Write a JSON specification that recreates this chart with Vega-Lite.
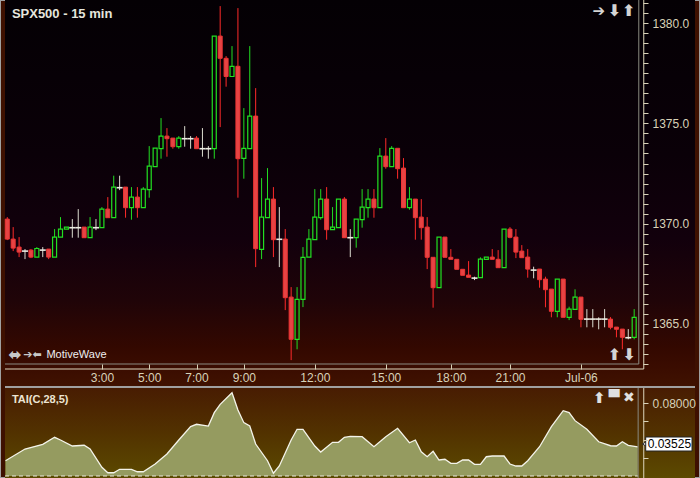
{
"$schema": "https://vega.github.io/schema/vega-lite/v6.json",
"width": 700, "height": 478, "padding": 0,
"autosize": {"type": "none"},
"background": "#3e1000",
"config": {"view": {"stroke": "#a0a0a0", "strokeWidth": 2}, "axis": {"grid": false}},
"data": {"values": [{}]},
"datasets": {
"candles": [
{"i":0,"o":1370.22,"h":1370.32,"l":1369.17,"c":1369.22,"d":"d"},
{"i":1,"o":1369.22,"h":1369.82,"l":1368.62,"c":1368.77,"d":"d"},
{"i":2,"o":1368.82,"h":1369.32,"l":1368.32,"c":1368.57,"d":"d"},
{"i":3,"o":1368.62,"h":1368.72,"l":1368.22,"c":1368.62,"d":"n"},
{"i":4,"o":1368.67,"h":1368.72,"l":1368.27,"c":1368.32,"d":"d"},
{"i":5,"o":1368.32,"h":1368.82,"l":1368.32,"c":1368.75,"d":"u"},
{"i":6,"o":1368.67,"h":1368.82,"l":1368.32,"c":1368.67,"d":"n"},
{"i":7,"o":1368.72,"h":1368.72,"l":1368.22,"c":1368.32,"d":"d"},
{"i":8,"o":1368.32,"h":1369.72,"l":1368.32,"c":1369.32,"d":"u"},
{"i":9,"o":1369.32,"h":1370.32,"l":1369.32,"c":1369.72,"d":"u"},
{"i":10,"o":1369.72,"h":1369.82,"l":1369.72,"c":1369.82,"d":"u"},
{"i":11,"o":1369.79,"h":1370.22,"l":1369.29,"c":1369.79,"d":"n"},
{"i":12,"o":1369.79,"h":1370.72,"l":1369.29,"c":1369.79,"d":"n"},
{"i":13,"o":1369.82,"h":1369.82,"l":1369.29,"c":1369.29,"d":"d"},
{"i":14,"o":1369.29,"h":1370.32,"l":1369.29,"c":1369.82,"d":"u"},
{"i":15,"o":1369.79,"h":1370.22,"l":1369.67,"c":1369.79,"d":"n"},
{"i":16,"o":1369.79,"h":1370.82,"l":1369.79,"c":1370.72,"d":"u"},
{"i":17,"o":1370.72,"h":1371.32,"l":1370.29,"c":1370.29,"d":"d"},
{"i":18,"o":1370.29,"h":1372.39,"l":1370.29,"c":1371.82,"d":"u"},
{"i":19,"o":1371.79,"h":1372.39,"l":1371.67,"c":1371.79,"d":"n"},
{"i":20,"o":1371.82,"h":1371.82,"l":1370.29,"c":1370.79,"d":"d"},
{"i":21,"o":1370.79,"h":1371.82,"l":1370.19,"c":1371.32,"d":"u"},
{"i":22,"o":1371.32,"h":1371.82,"l":1370.29,"c":1370.79,"d":"d"},
{"i":23,"o":1370.79,"h":1371.82,"l":1370.79,"c":1371.72,"d":"u"},
{"i":24,"o":1371.69,"h":1373.87,"l":1371.29,"c":1372.87,"d":"u"},
{"i":25,"o":1372.84,"h":1373.77,"l":1372.84,"c":1373.77,"d":"u"},
{"i":26,"o":1373.74,"h":1375.27,"l":1373.24,"c":1374.37,"d":"u"},
{"i":27,"o":1374.37,"h":1374.77,"l":1373.34,"c":1374.24,"d":"d"},
{"i":28,"o":1374.27,"h":1374.27,"l":1373.74,"c":1373.84,"d":"d"},
{"i":29,"o":1373.84,"h":1374.37,"l":1373.74,"c":1374.27,"d":"u"},
{"i":30,"o":1374.24,"h":1374.87,"l":1373.84,"c":1374.24,"d":"n"},
{"i":31,"o":1374.24,"h":1374.37,"l":1373.74,"c":1374.24,"d":"n"},
{"i":32,"o":1374.27,"h":1374.37,"l":1373.74,"c":1373.74,"d":"d"},
{"i":33,"o":1373.74,"h":1374.77,"l":1373.34,"c":1373.74,"d":"n"},
{"i":34,"o":1373.74,"h":1373.87,"l":1373.24,"c":1373.74,"d":"n"},
{"i":35,"o":1373.74,"h":1379.37,"l":1373.24,"c":1379.37,"d":"u"},
{"i":36,"o":1379.37,"h":1380.87,"l":1374.82,"c":1378.26,"d":"d"},
{"i":37,"o":1378.26,"h":1378.37,"l":1376.84,"c":1377.35,"d":"d"},
{"i":38,"o":1377.35,"h":1378.87,"l":1377.35,"c":1377.86,"d":"u"},
{"i":39,"o":1377.86,"h":1380.77,"l":1371.29,"c":1373.24,"d":"d"},
{"i":40,"o":1373.26,"h":1375.77,"l":1372.24,"c":1373.76,"d":"u"},
{"i":41,"o":1373.74,"h":1378.87,"l":1373.74,"c":1375.37,"d":"u"},
{"i":42,"o":1375.37,"h":1376.77,"l":1367.82,"c":1368.74,"d":"d"},
{"i":43,"o":1368.71,"h":1372.27,"l":1368.22,"c":1370.32,"d":"u"},
{"i":44,"o":1370.29,"h":1372.77,"l":1370.29,"c":1371.22,"d":"u"},
{"i":45,"o":1371.22,"h":1371.82,"l":1368.32,"c":1369.19,"d":"d"},
{"i":46,"o":1369.21,"h":1370.82,"l":1367.82,"c":1369.21,"d":"n"},
{"i":47,"o":1369.22,"h":1369.72,"l":1365.67,"c":1366.29,"d":"d"},
{"i":48,"o":1366.32,"h":1366.82,"l":1363.17,"c":1364.21,"d":"d"},
{"i":49,"o":1364.21,"h":1366.82,"l":1363.71,"c":1366.21,"d":"u"},
{"i":50,"o":1366.21,"h":1368.82,"l":1365.82,"c":1368.31,"d":"u"},
{"i":51,"o":1368.32,"h":1369.72,"l":1368.32,"c":1369.22,"d":"u"},
{"i":52,"o":1369.19,"h":1371.72,"l":1369.19,"c":1370.32,"d":"u"},
{"i":53,"o":1370.29,"h":1371.72,"l":1370.19,"c":1371.22,"d":"u"},
{"i":54,"o":1371.22,"h":1371.82,"l":1369.19,"c":1369.69,"d":"d"},
{"i":55,"o":1369.69,"h":1370.82,"l":1369.69,"c":1369.82,"d":"u"},
{"i":56,"o":1369.79,"h":1371.22,"l":1369.79,"c":1371.22,"d":"u"},
{"i":57,"o":1371.22,"h":1371.32,"l":1369.29,"c":1369.29,"d":"d"},
{"i":58,"o":1369.29,"h":1369.72,"l":1368.32,"c":1369.29,"d":"n"},
{"i":59,"o":1369.29,"h":1370.22,"l":1368.79,"c":1370.22,"d":"u"},
{"i":60,"o":1370.19,"h":1371.72,"l":1369.79,"c":1370.82,"d":"u"},
{"i":61,"o":1370.79,"h":1371.72,"l":1370.29,"c":1371.22,"d":"u"},
{"i":62,"o":1371.22,"h":1371.72,"l":1370.29,"c":1370.79,"d":"d"},
{"i":63,"o":1370.79,"h":1373.77,"l":1370.79,"c":1373.37,"d":"u"},
{"i":64,"o":1373.37,"h":1374.27,"l":1372.74,"c":1372.84,"d":"d"},
{"i":65,"o":1372.84,"h":1373.87,"l":1372.84,"c":1373.76,"d":"u"},
{"i":66,"o":1373.76,"h":1373.76,"l":1372.24,"c":1372.74,"d":"d"},
{"i":67,"o":1372.77,"h":1373.27,"l":1370.79,"c":1370.79,"d":"d"},
{"i":68,"o":1370.79,"h":1371.82,"l":1370.69,"c":1371.22,"d":"u"},
{"i":69,"o":1371.22,"h":1371.22,"l":1369.19,"c":1370.29,"d":"d"},
{"i":70,"o":1370.32,"h":1371.22,"l":1369.19,"c":1369.79,"d":"d"},
{"i":71,"o":1369.82,"h":1370.32,"l":1367.72,"c":1368.31,"d":"d"},
{"i":72,"o":1368.31,"h":1368.32,"l":1365.79,"c":1366.79,"d":"d"},
{"i":73,"o":1366.79,"h":1369.32,"l":1366.79,"c":1369.32,"d":"u"},
{"i":74,"o":1369.32,"h":1369.32,"l":1368.31,"c":1368.31,"d":"d"},
{"i":75,"o":1368.31,"h":1368.72,"l":1368.21,"c":1368.21,"d":"d"},
{"i":76,"o":1368.21,"h":1368.22,"l":1367.71,"c":1367.71,"d":"d"},
{"i":77,"o":1367.71,"h":1367.71,"l":1367.41,"c":1367.41,"d":"d"},
{"i":78,"o":1367.42,"h":1368.12,"l":1367.31,"c":1367.31,"d":"d"},
{"i":79,"o":1367.27,"h":1367.34,"l":1367.17,"c":1367.27,"d":"n"},
{"i":80,"o":1367.29,"h":1368.31,"l":1367.29,"c":1368.22,"d":"u"},
{"i":81,"o":1368.21,"h":1368.32,"l":1368.21,"c":1368.32,"d":"u"},
{"i":82,"o":1368.32,"h":1368.72,"l":1368.21,"c":1368.21,"d":"d"},
{"i":83,"o":1368.21,"h":1368.67,"l":1367.79,"c":1367.79,"d":"d"},
{"i":84,"o":1367.79,"h":1369.72,"l":1367.79,"c":1369.72,"d":"u"},
{"i":85,"o":1369.72,"h":1369.82,"l":1369.26,"c":1369.31,"d":"d"},
{"i":86,"o":1369.32,"h":1369.72,"l":1368.27,"c":1368.57,"d":"d"},
{"i":87,"o":1368.62,"h":1368.92,"l":1368.29,"c":1368.29,"d":"d"},
{"i":88,"o":1368.32,"h":1368.72,"l":1367.29,"c":1367.72,"d":"d"},
{"i":89,"o":1367.67,"h":1367.84,"l":1367.26,"c":1367.67,"d":"n"},
{"i":90,"o":1367.72,"h":1367.72,"l":1366.79,"c":1367.19,"d":"d"},
{"i":91,"o":1367.22,"h":1367.34,"l":1365.81,"c":1366.69,"d":"d"},
{"i":92,"o":1366.72,"h":1366.72,"l":1365.31,"c":1365.61,"d":"d"},
{"i":93,"o":1365.61,"h":1367.22,"l":1365.31,"c":1367.22,"d":"u"},
{"i":94,"o":1367.22,"h":1367.22,"l":1365.31,"c":1365.31,"d":"d"},
{"i":95,"o":1365.31,"h":1365.84,"l":1365.17,"c":1365.72,"d":"u"},
{"i":96,"o":1365.71,"h":1366.71,"l":1365.71,"c":1366.32,"d":"u"},
{"i":97,"o":1366.32,"h":1366.32,"l":1364.81,"c":1365.21,"d":"d"},
{"i":98,"o":1365.22,"h":1365.72,"l":1364.81,"c":1365.22,"d":"n"},
{"i":99,"o":1365.22,"h":1365.72,"l":1364.81,"c":1365.22,"d":"n"},
{"i":100,"o":1365.22,"h":1365.31,"l":1364.71,"c":1365.22,"d":"n"},
{"i":101,"o":1365.22,"h":1365.72,"l":1364.81,"c":1365.22,"d":"n"},
{"i":102,"o":1365.22,"h":1365.32,"l":1364.71,"c":1364.81,"d":"d"},
{"i":103,"o":1364.82,"h":1364.82,"l":1364.31,"c":1364.71,"d":"d"},
{"i":104,"o":1364.72,"h":1364.72,"l":1363.71,"c":1364.31,"d":"d"},
{"i":105,"o":1364.29,"h":1364.72,"l":1364.21,"c":1364.29,"d":"n"},
{"i":106,"o":1364.31,"h":1365.72,"l":1364.21,"c":1365.31,"d":"u"}
],
"tai": [
{"i":-0.3,"t":0.0168},{"i":3,"t":0.0297},{"i":6,"t":0.0349},{"i":8,"t":0.0426},{"i":9,"t":0.0396},{"i":11,"t":0.0330},{"i":13,"t":0.0338},{"i":14,"t":0.0297},{"i":16,"t":0.0096},{"i":17,"t":0.0036},{"i":18,"t":0.0036},{"i":19,"t":0.0074},{"i":21,"t":0.0074},{"i":22,"t":0.0047},{"i":23,"t":0.0047},{"i":25,"t":0.0132},{"i":27,"t":0.0242},{"i":29,"t":0.0396},{"i":31,"t":0.0543},{"i":32,"t":0.0569},{"i":34,"t":0.0550},{"i":35,"t":0.0697},{"i":36,"t":0.0789},{"i":38,"t":0.0917},{"i":39,"t":0.0726},{"i":40,"t":0.0587},{"i":41,"t":0.0550},{"i":42,"t":0.0352},{"i":44,"t":0.0168},{"i":45,"t":0.0030},{"i":46,"t":0.0110},{"i":48,"t":0.0396},{"i":49,"t":0.0514},{"i":50,"t":0.0514},{"i":52,"t":0.0330},{"i":53,"t":0.0264},{"i":55,"t":0.0371},{"i":56,"t":0.0371},{"i":57,"t":0.0426},{"i":58,"t":0.0435},{"i":60,"t":0.0433},{"i":62,"t":0.0322},{"i":64,"t":0.0433},{"i":66,"t":0.0525},{"i":68,"t":0.0366},{"i":69,"t":0.0396},{"i":70,"t":0.0267},{"i":71,"t":0.0212},{"i":72,"t":0.0272},{"i":73,"t":0.0176},{"i":74,"t":0.0184},{"i":75,"t":0.0140},{"i":76,"t":0.0140},{"i":77,"t":0.0176},{"i":78,"t":0.0176},{"i":79,"t":0.0129},{"i":80,"t":0.0129},{"i":81,"t":0.0212},{"i":82,"t":0.0220},{"i":84,"t":0.0220},{"i":85,"t":0.0132},{"i":86,"t":0.0110},{"i":87,"t":0.0110},{"i":88,"t":0.0168},{"i":90,"t":0.0322},{"i":92,"t":0.0543},{"i":94,"t":0.0719},{"i":95,"t":0.0697},{"i":96,"t":0.0609},{"i":98,"t":0.0514},{"i":100,"t":0.0377},{"i":102,"t":0.0333},{"i":103,"t":0.0330},{"i":104,"t":0.0377},{"i":105,"t":0.0338},{"i":106.6,"t":0.0320}
]
},
"resolve": {"scale": {"y": "independent"}},
"layer": [
{"mark": {"type": "rect", "fill": {"gradient": "linear", "x1": 0, "y1": 0, "x2": 0, "y2": 1, "stops": [{"offset": 0, "color": "#040004"}, {"offset": 0.4, "color": "#0a0008"}, {"offset": 0.62, "color": "#12000c"}, {"offset": 0.78, "color": "#200408"}, {"offset": 0.9, "color": "#330800"}, {"offset": 0.95, "color": "#3a0c00"}, {"offset": 1, "color": "#401200"}]}},
 "encoding": {"x": {"datum": -0.3833, "type": "quantitative", "scale": {"domain": [-0.3833, 116.2833], "nice": false, "zero": false}, "title": null}, "x2": {"datum": 116.2833},
  "y": {"datum": 1381.175, "type": "quantitative", "scale": {"domain": [1357.275, 1381.175], "nice": false, "zero": false}, "axis": null}, "y2": {"datum": 1361.875}}},
{"mark": {"type": "rect", "fill": {"gradient": "linear", "x1": 0, "y1": 0, "x2": 0, "y2": 1, "stops": [{"offset": 0, "color": "#481c02"}, {"offset": 0.5, "color": "#523200"}, {"offset": 1, "color": "#5c4a00"}]}},
 "encoding": {"x": {"datum": -0.3833, "type": "quantitative", "scale": {"domain": [-0.3833, 116.2833], "nice": false, "zero": false}, "title": null}, "x2": {"datum": 116.2833},
  "y": {"datum": 0.0968, "type": "quantitative", "scale": {"domain": [-0.0022, 0.5238], "nice": false, "zero": false}, "axis": null}, "y2": {"datum": -0.0022}}},
{"data": {"name": "tai"},
 "mark": {"type": "area", "color": "#959b60", "opacity": 1, "line": {"color": "#f4f4ea", "strokeWidth": 1.3}},
 "encoding": {"x": {"field": "i", "type": "quantitative", "scale": {"domain": [-0.3833, 116.2833], "nice": false, "zero": false}, "title": null},
  "y": {"field": "t", "type": "quantitative", "scale": {"domain": [-0.0022, 0.5238], "nice": false, "zero": false}, "title": null,
   "axis": {"orient": "right", "offset": -52, "zindex": 2, "values": [0.02, 0.04, 0.06, 0.08], "labelExpr": "datum.value == 0.08 ? '0.08000' : ''", "domain": false, "grid": false, "tickSize": -5, "tickColor": "#d8d2b8", "labelColor": "#d8d2b8", "labelFont": "Liberation Sans", "labelFontSize": 12, "labelPadding": 9, "labelOverlap": false, "labelFlush": false, "labelBound": false}},
  "y2": {"datum": 0}}},
{"mark": {"type": "rule", "stroke": "#e8e8e0", "strokeDash": [4, 3], "strokeWidth": 1},
 "encoding": {"x": {"datum": -0.3833, "type": "quantitative", "scale": {"domain": [-0.3833, 116.2833], "nice": false, "zero": false}, "title": null}, "x2": {"datum": 106.67},
  "y": {"datum": 0, "type": "quantitative", "scale": {"domain": [-0.0022, 0.5238], "nice": false, "zero": false}, "axis": null}}},
{"data": {"name": "candles"}, "transform": [{"filter": "datum.d == 'u'"}],
 "mark": {"type": "rule", "color": "#22dd22", "strokeWidth": 1},
 "encoding": {"x": {"field": "i", "type": "quantitative", "scale": {"domain": [-0.3833, 116.2833], "nice": false, "zero": false}, "title": null,
   "axis": {"orient": "bottom", "offset": -109, "zindex": 2, "values": [16, 24, 32, 40, 52, 64, 75, 85, 97], "labelExpr": "datum.value == 16 ? '3:00' : datum.value == 24 ? '5:00' : datum.value == 32 ? '7:00' : datum.value == 40 ? '9:00' : datum.value == 52 ? '12:00' : datum.value == 64 ? '15:00' : datum.value == 75 ? '18:00' : datum.value == 85 ? '21:00' : 'Jul-06'", "domain": false, "grid": false, "tickSize": -5, "tickColor": "#d8d2b8", "labelColor": "#d8d2b8", "labelFont": "Liberation Sans", "labelFontSize": 12, "labelPadding": 8, "labelOverlap": false, "labelFlush": false, "labelBound": false}},
  "y": {"field": "h", "type": "quantitative", "scale": {"domain": [1357.275, 1381.175], "nice": false, "zero": false}, "title": null,
   "axis": {"orient": "right", "offset": -52, "zindex": 2, "values": [1363, 1363.5, 1364, 1364.5, 1365, 1365.5, 1366, 1366.5, 1367, 1367.5, 1368, 1368.5, 1369, 1369.5, 1370, 1370.5, 1371, 1371.5, 1372, 1372.5, 1373, 1373.5, 1374, 1374.5, 1375, 1375.5, 1376, 1376.5, 1377, 1377.5, 1378, 1378.5, 1379, 1379.5, 1380, 1380.5, 1381], "labelExpr": "datum.value % 5 == 0 ? format(datum.value, '.1f') : ''", "domain": false, "grid": false, "tickSize": -5, "tickColor": "#d8d2b8", "labelColor": "#d8d2b8", "labelFont": "Liberation Sans", "labelFontSize": 12, "labelPadding": 9, "labelOverlap": false, "labelFlush": false, "labelBound": false}},
  "y2": {"field": "c"}}},
{"data": {"name": "candles"}, "transform": [{"filter": "datum.d == 'u'"}],
 "mark": {"type": "rule", "color": "#22dd22", "strokeWidth": 1},
 "encoding": {"x": {"field": "i", "type": "quantitative", "scale": {"domain": [-0.3833, 116.2833], "nice": false, "zero": false}, "title": null},
  "y": {"field": "o", "type": "quantitative", "scale": {"domain": [1357.275, 1381.175], "nice": false, "zero": false}, "axis": null}, "y2": {"field": "l"}}},
{"data": {"name": "candles"}, "transform": [{"filter": "datum.d == 'd'"}],
 "mark": {"type": "rule", "color": "#ff2a2a", "strokeWidth": 1},
 "encoding": {"x": {"field": "i", "type": "quantitative", "scale": {"domain": [-0.3833, 116.2833], "nice": false, "zero": false}, "title": null},
  "y": {"field": "h", "type": "quantitative", "scale": {"domain": [1357.275, 1381.175], "nice": false, "zero": false}, "axis": null}, "y2": {"field": "o"}}},
{"data": {"name": "candles"}, "transform": [{"filter": "datum.d == 'd'"}],
 "mark": {"type": "rule", "color": "#ff2a2a", "strokeWidth": 1},
 "encoding": {"x": {"field": "i", "type": "quantitative", "scale": {"domain": [-0.3833, 116.2833], "nice": false, "zero": false}, "title": null},
  "y": {"field": "c", "type": "quantitative", "scale": {"domain": [1357.275, 1381.175], "nice": false, "zero": false}, "axis": null}, "y2": {"field": "l"}}},
{"data": {"name": "candles"}, "transform": [{"filter": "datum.d == 'n'"}],
 "mark": {"type": "rule", "color": "#dcdcd0", "strokeWidth": 1},
 "encoding": {"x": {"field": "i", "type": "quantitative", "scale": {"domain": [-0.3833, 116.2833], "nice": false, "zero": false}, "title": null},
  "y": {"field": "h", "type": "quantitative", "scale": {"domain": [1357.275, 1381.175], "nice": false, "zero": false}, "axis": null}, "y2": {"field": "l"}}},
{"data": {"name": "candles"}, "transform": [{"filter": "datum.d == 'u'"}],
 "mark": {"type": "bar", "orient": "vertical", "filled": false, "stroke": "#22e022", "strokeWidth": 1.2, "width": 4},
 "encoding": {"x": {"field": "i", "type": "quantitative", "scale": {"domain": [-0.3833, 116.2833], "nice": false, "zero": false}, "title": null},
  "y": {"field": "o", "type": "quantitative", "scale": {"domain": [1357.275, 1381.175], "nice": false, "zero": false}, "axis": null}, "y2": {"field": "c"}}},
{"data": {"name": "candles"}, "transform": [{"filter": "datum.d == 'd'"}],
 "mark": {"type": "bar", "orient": "vertical", "fill": "#e64444", "stroke": "#f03434", "strokeWidth": 1, "width": 4},
 "encoding": {"x": {"field": "i", "type": "quantitative", "scale": {"domain": [-0.3833, 116.2833], "nice": false, "zero": false}, "title": null},
  "y": {"field": "o", "type": "quantitative", "scale": {"domain": [1357.275, 1381.175], "nice": false, "zero": false}, "axis": null}, "y2": {"field": "c"}}},
{"data": {"name": "candles"}, "transform": [{"filter": "datum.d == 'n'"}],
 "mark": {"type": "tick", "orient": "horizontal", "color": "#ecece2", "thickness": 1.6, "size": 6, "opacity": 1},
 "encoding": {"x": {"field": "i", "type": "quantitative", "scale": {"domain": [-0.3833, 116.2833], "nice": false, "zero": false}, "title": null},
  "y": {"field": "o", "type": "quantitative", "scale": {"domain": [1357.275, 1381.175], "nice": false, "zero": false}, "axis": null}}},
{"mark": {"type": "rule", "stroke": "#8a8a80", "strokeWidth": 1},
 "encoding": {"x": {"datum": 106.78, "type": "quantitative", "scale": {"domain": [-0.3833, 116.2833], "nice": false, "zero": false}, "title": null},
  "y": {"datum": 1381.175, "type": "quantitative", "scale": {"domain": [1357.275, 1381.175], "nice": false, "zero": false}, "axis": null}, "y2": {"datum": 1362.975}}},
{"mark": {"type": "rule", "stroke": "#8a8a80", "strokeWidth": 1},
 "encoding": {"x": {"datum": -0.3833, "type": "quantitative", "scale": {"domain": [-0.3833, 116.2833], "nice": false, "zero": false}, "title": null}, "x2": {"datum": 106.78},
  "y": {"datum": 1362.975, "type": "quantitative", "scale": {"domain": [1357.275, 1381.175], "nice": false, "zero": false}, "axis": null}}},
{"mark": {"type": "rule", "stroke": "#ddd6bc", "strokeWidth": 1},
 "encoding": {"x": {"datum": 107.62, "type": "quantitative", "scale": {"domain": [-0.3833, 116.2833], "nice": false, "zero": false}, "title": null},
  "y": {"datum": 1381.175, "type": "quantitative", "scale": {"domain": [1357.275, 1381.175], "nice": false, "zero": false}, "axis": null}, "y2": {"datum": 1362.725}}},
{"mark": {"type": "rule", "stroke": "#ddd6bc", "strokeWidth": 1},
 "encoding": {"x": {"datum": -0.3833, "type": "quantitative", "scale": {"domain": [-0.3833, 116.2833], "nice": false, "zero": false}, "title": null}, "x2": {"datum": 107.62},
  "y": {"datum": 1362.725, "type": "quantitative", "scale": {"domain": [1357.275, 1381.175], "nice": false, "zero": false}, "axis": null}}},
{"mark": {"type": "rule", "stroke": "#8a8a80", "strokeWidth": 1},
 "encoding": {"x": {"datum": 106.67, "type": "quantitative", "scale": {"domain": [-0.3833, 116.2833], "nice": false, "zero": false}, "title": null},
  "y": {"datum": 0.0968, "type": "quantitative", "scale": {"domain": [-0.0022, 0.5238], "nice": false, "zero": false}, "axis": null}, "y2": {"datum": -0.0022}}},
{"mark": {"type": "rule", "stroke": "#ddd6bc", "strokeWidth": 1},
 "encoding": {"x": {"datum": 107.62, "type": "quantitative", "scale": {"domain": [-0.3833, 116.2833], "nice": false, "zero": false}, "title": null},
  "y": {"datum": 0.0968, "type": "quantitative", "scale": {"domain": [-0.0022, 0.5238], "nice": false, "zero": false}, "axis": null}, "y2": {"datum": -0.0022}}},
{"mark": {"type": "rule", "stroke": "#a0a0a0", "strokeWidth": 2},
 "encoding": {"x": {"datum": -0.3833, "type": "quantitative", "scale": {"domain": [-0.3833, 116.2833], "nice": false, "zero": false}, "title": null}, "x2": {"datum": 116.2833},
  "y": {"datum": 1361.825, "type": "quantitative", "scale": {"domain": [1357.275, 1381.175], "nice": false, "zero": false}, "axis": null}}},
{"mark": {"type": "text", "text": "SPX500 - 15 min", "font": "Liberation Sans", "fontSize": 13, "fontWeight": "bold", "color": "#e6e6de", "align": "left", "baseline": "middle"},
 "encoding": {"x": {"datum": 0.78, "type": "quantitative", "scale": {"domain": [-0.3833, 116.2833], "nice": false, "zero": false}, "title": null},
  "y": {"datum": 1380.475, "type": "quantitative", "scale": {"domain": [1357.275, 1381.175], "nice": false, "zero": false}, "axis": null}}},
{"mark": {"type": "text", "text": "MotiveWave", "font": "Liberation Sans", "fontSize": 11, "color": "#f0f0f0", "align": "left", "baseline": "middle"},
 "encoding": {"x": {"datum": 6.62, "type": "quantitative", "scale": {"domain": [-0.3833, 116.2833], "nice": false, "zero": false}, "title": null},
  "y": {"datum": 1363.425, "type": "quantitative", "scale": {"domain": [1357.275, 1381.175], "nice": false, "zero": false}, "axis": null}}},
{"mark": {"type": "text", "text": "⬌", "font": "DejaVu Sans", "fontSize": 16, "fontWeight": "bold", "color": "#c8c8c8", "align": "center", "baseline": "middle"},
 "encoding": {"x": {"datum": 1.28, "type": "quantitative", "scale": {"domain": [-0.3833, 116.2833], "nice": false, "zero": false}, "title": null},
  "y": {"datum": 1363.425, "type": "quantitative", "scale": {"domain": [1357.275, 1381.175], "nice": false, "zero": false}, "axis": null}}},
{"mark": {"type": "text", "text": "➔⬅", "font": "DejaVu Sans", "fontSize": 11, "fontWeight": "bold", "color": "#c8c8c8", "align": "center", "baseline": "middle"},
 "encoding": {"x": {"datum": 4.28, "type": "quantitative", "scale": {"domain": [-0.3833, 116.2833], "nice": false, "zero": false}, "title": null},
  "y": {"datum": 1363.425, "type": "quantitative", "scale": {"domain": [1357.275, 1381.175], "nice": false, "zero": false}, "axis": null}}},
{"mark": {"type": "text", "text": "➔", "font": "DejaVu Sans", "fontSize": 15, "fontWeight": "bold", "color": "#d4d4d4", "align": "center", "baseline": "middle"},
 "encoding": {"x": {"datum": 100.03, "type": "quantitative", "scale": {"domain": [-0.3833, 116.2833], "nice": false, "zero": false}, "title": null},
  "y": {"datum": 1380.625, "type": "quantitative", "scale": {"domain": [1357.275, 1381.175], "nice": false, "zero": false}, "axis": null}}},
{"mark": {"type": "text", "text": "⬇", "font": "DejaVu Sans", "fontSize": 16, "fontWeight": "bold", "color": "#d4d4d4", "align": "center", "baseline": "middle"},
 "encoding": {"x": {"datum": 102.62, "type": "quantitative", "scale": {"domain": [-0.3833, 116.2833], "nice": false, "zero": false}, "title": null},
  "y": {"datum": 1380.625, "type": "quantitative", "scale": {"domain": [1357.275, 1381.175], "nice": false, "zero": false}, "axis": null}}},
{"mark": {"type": "text", "text": "⬆", "font": "DejaVu Sans", "fontSize": 16, "fontWeight": "bold", "color": "#d4d4d4", "align": "center", "baseline": "middle"},
 "encoding": {"x": {"datum": 105.03, "type": "quantitative", "scale": {"domain": [-0.3833, 116.2833], "nice": false, "zero": false}, "title": null},
  "y": {"datum": 1380.625, "type": "quantitative", "scale": {"domain": [1357.275, 1381.175], "nice": false, "zero": false}, "axis": null}}},
{"mark": {"type": "text", "text": "⬆", "font": "DejaVu Sans", "fontSize": 16, "fontWeight": "bold", "color": "#d4d4d4", "align": "center", "baseline": "middle"},
 "encoding": {"x": {"datum": 102.62, "type": "quantitative", "scale": {"domain": [-0.3833, 116.2833], "nice": false, "zero": false}, "title": null},
  "y": {"datum": 1363.425, "type": "quantitative", "scale": {"domain": [1357.275, 1381.175], "nice": false, "zero": false}, "axis": null}}},
{"mark": {"type": "text", "text": "⬇", "font": "DejaVu Sans", "fontSize": 16, "fontWeight": "bold", "color": "#d4d4d4", "align": "center", "baseline": "middle"},
 "encoding": {"x": {"datum": 105.12, "type": "quantitative", "scale": {"domain": [-0.3833, 116.2833], "nice": false, "zero": false}, "title": null},
  "y": {"datum": 1363.425, "type": "quantitative", "scale": {"domain": [1357.275, 1381.175], "nice": false, "zero": false}, "axis": null}}},
{"mark": {"type": "text", "text": "TAI(C,28,5)", "font": "Liberation Sans", "fontSize": 11, "fontWeight": "bold", "color": "#ece4d2", "align": "left", "baseline": "middle"},
 "encoding": {"x": {"datum": 0.78, "type": "quantitative", "scale": {"domain": [-0.3833, 116.2833], "nice": false, "zero": false}, "title": null},
  "y": {"datum": 0.0831, "type": "quantitative", "scale": {"domain": [-0.0022, 0.5238], "nice": false, "zero": false}, "axis": null}}},
{"mark": {"type": "text", "text": "⬆", "font": "DejaVu Sans", "fontSize": 15, "fontWeight": "bold", "color": "#e0e0e0", "align": "center", "baseline": "middle"},
 "encoding": {"x": {"datum": 100.12, "type": "quantitative", "scale": {"domain": [-0.3833, 116.2833], "nice": false, "zero": false}, "title": null},
  "y": {"datum": 0.0858, "type": "quantitative", "scale": {"domain": [-0.0022, 0.5238], "nice": false, "zero": false}, "axis": null}}},
{"mark": {"type": "text", "text": "▀", "font": "DejaVu Sans", "fontSize": 14, "color": "#e0e0e0", "align": "center", "baseline": "middle"},
 "encoding": {"x": {"datum": 102.62, "type": "quantitative", "scale": {"domain": [-0.3833, 116.2833], "nice": false, "zero": false}, "title": null},
  "y": {"datum": 0.0858, "type": "quantitative", "scale": {"domain": [-0.0022, 0.5238], "nice": false, "zero": false}, "axis": null}}},
{"mark": {"type": "text", "text": "✖", "font": "DejaVu Sans", "fontSize": 14, "color": "#e0e0e0", "align": "center", "baseline": "middle"},
 "encoding": {"x": {"datum": 105.12, "type": "quantitative", "scale": {"domain": [-0.3833, 116.2833], "nice": false, "zero": false}, "title": null},
  "y": {"datum": 0.0858, "type": "quantitative", "scale": {"domain": [-0.0022, 0.5238], "nice": false, "zero": false}, "axis": null}}},
{"mark": {"type": "point", "shape": "triangle-left", "size": 100, "filled": true, "fill": "#ffffff", "stroke": "#222222", "strokeWidth": 1, "opacity": 1},
 "encoding": {"x": {"datum": 108.12, "type": "quantitative", "scale": {"domain": [-0.3833, 116.2833], "nice": false, "zero": false}, "title": null},
  "y": {"datum": 0.03525, "type": "quantitative", "scale": {"domain": [-0.0022, 0.5238], "nice": false, "zero": false}, "axis": null}}},
{"mark": {"type": "rect", "fill": "#ffffff", "stroke": "#222222", "strokeWidth": 1},
 "encoding": {"x": {"datum": 107.95, "type": "quantitative", "scale": {"domain": [-0.3833, 116.2833], "nice": false, "zero": false}, "title": null}, "x2": {"datum": 115.78},
  "y": {"datum": 0.0429, "type": "quantitative", "scale": {"domain": [-0.0022, 0.5238], "nice": false, "zero": false}, "axis": null}, "y2": {"datum": 0.0275}}},
{"mark": {"type": "text", "text": "0.03525", "font": "Liberation Sans", "fontSize": 12, "color": "#000000", "align": "center", "baseline": "middle"},
 "encoding": {"x": {"datum": 111.95, "type": "quantitative", "scale": {"domain": [-0.3833, 116.2833], "nice": false, "zero": false}, "title": null},
  "y": {"datum": 0.03525, "type": "quantitative", "scale": {"domain": [-0.0022, 0.5238], "nice": false, "zero": false}, "axis": null}}}
]
}
